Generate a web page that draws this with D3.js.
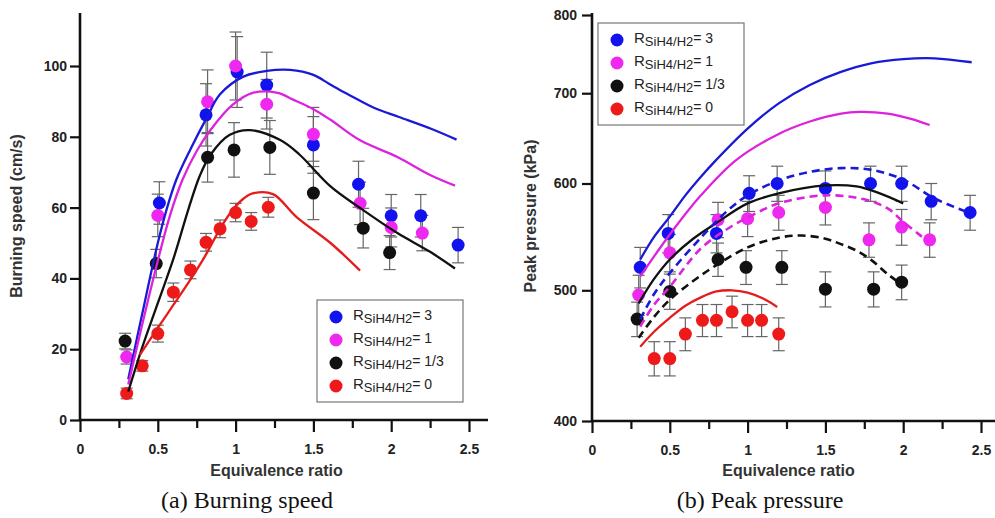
<!DOCTYPE html>
<html>
<head>
<meta charset="utf-8">
<script src="https://cdn.jsdelivr.net/npm/d3@7"></script>
<style>
body { margin: 0; background: #fff; }
svg text { font-family: "Liberation Sans", Arial, sans-serif; }
</style>
</head>
<body>
<div id="chart"></div>
<script>
// series order: R = 3, 1, 1/3, 0
var ratioLabels = ["3", "1", "1/3", "0"];
var pointColors = ["#1212ee", "#ee28ee", "#111111", "#ee1a1a"];
var lineColors = ["#1a1ad6", "#dd22dd", "#111111", "#e41c1c"];

// (a) burning speed, measured (cm/s)
var speedPhi = [
    [0.51, 0.81, 1.01, 1.2, 1.5, 1.79, 2.0, 2.19, 2.43],
    [0.3, 0.5, 0.82, 1.0, 1.2, 1.5, 1.8, 2.0, 2.2],
    [0.29, 0.49, 0.82, 0.99, 1.22, 1.5, 1.82, 1.99],
    [0.3, 0.4, 0.5, 0.6, 0.71, 0.81, 0.9, 1.0, 1.1, 1.21]
];
var speedVal = [
    [61.3, 86.2, 98.3, 94.6, 77.7, 66.6, 57.7, 57.7, 49.4],
    [17.8, 57.8, 89.9, 100, 89.2, 80.7, 61.2, 54.4, 52.8],
    [22.3, 44.2, 74.2, 76.3, 77, 64.1, 54.2, 47.3],
    [7.5, 15.3, 24.4, 36.1, 42.4, 50.2, 54, 58.6, 56.1, 60.1]
];
var speedErr = [
    [6, 8.8, 10, 9.3, 8, 6.5, 6, 6, 5],
    [2, 6, 9, 9.6, 7, 7.6, 6, 5.5, 5],
    [2.2, 4, 7, 7.7, 7.6, 7.5, 5.6, 4.8],
    [1.5, 1.5, 2.4, 2.6, 2.5, 2.5, 2.5, 2.6, 2.5, 2.8]
];

// (a) burning speed, model curves
var speedModelPhi = [
    [0.31, 0.4, 0.5, 0.56, 0.62, 0.71, 0.81, 0.9, 1.05, 1.2, 1.35, 1.5, 1.6, 1.7, 1.8, 1.9, 2.05, 2.26, 2.42],
    [0.31, 0.4, 0.5, 0.58, 0.66, 0.75, 0.84, 0.98, 1.11, 1.27, 1.37, 1.5, 1.61, 1.8, 2.04, 2.25, 2.41],
    [0.31, 0.4, 0.5, 0.6, 0.7, 0.77, 0.84, 0.96, 1.09, 1.29, 1.41, 1.61, 1.82, 2.04, 2.25, 2.41],
    [0.385, 0.5, 0.6, 0.7, 0.8, 0.9, 0.98, 1.05, 1.11, 1.24, 1.39, 1.61, 1.8]
];
var speedModelVal = [
    [11.5, 30, 50, 60, 68, 76.5, 85, 92, 97, 98.6, 98.9, 97.5, 95, 92.5, 90.2, 88, 85.6, 82.2, 79.2],
    [10, 27, 45, 58, 68, 76, 82, 89, 92.4, 92.4, 90.5, 87.8, 84.8, 79, 74.3, 69.2, 66.2],
    [8, 20.5, 33, 45.5, 60, 69, 75, 80.5, 81.9, 79, 75, 66, 59.3, 52.8, 47.5, 42.8],
    [18.4, 26, 32.5, 39, 46, 54, 59.3, 62.5, 64, 63.8, 57.4, 50, 42.2]
];

// (b) peak pressure, measured (kPa)
var pressPhi = [
    [0.31, 0.49, 0.8, 1.01, 1.19, 1.5, 1.79, 1.99, 2.18, 2.43],
    [0.3, 0.5, 0.81, 1.0, 1.2, 1.5, 1.78, 1.99, 2.17],
    [0.29, 0.5, 0.81, 0.99, 1.22, 1.5, 1.81, 1.99],
    [0.4, 0.5, 0.6, 0.71, 0.8, 0.9, 1.0, 1.09, 1.2]
];
var pressVal = [
    [520, 551, 551, 590, 600, 595, 600, 600, 582, 571],
    [496, 533, 564, 565, 571, 576, 545, 557, 545],
    [476, 499, 527, 520, 520, 501, 501, 507],
    [445, 445, 464, 475, 475, 482, 475, 475, 464]
];
var pressErr = [
    [18, 18, 18, 18, 18, 18, 18, 18, 18, 17],
    [17, 17, 17, 17, 17, 17, 16, 17, 16],
    [14, 15, 15, 15, 15, 15, 15, 15],
    [13, 13, 13, 13, 13, 13, 13, 13, 13]
];

// (b) peak pressure, model curves: solid and dashed
var pressSolidPhi = [
    [0.31, 0.4, 0.5, 0.6, 0.7, 0.8, 1.0, 1.2, 1.4, 1.6, 1.8, 2.0, 2.2, 2.44],
    [0.31, 0.5, 0.7, 0.93, 1.2, 1.4, 1.6, 1.72, 1.9, 2.05, 2.17],
    [0.3, 0.4, 0.5, 0.65, 0.8, 1.0, 1.2, 1.5, 1.7, 1.85, 2.0],
    [0.31, 0.4, 0.5, 0.6, 0.7, 0.8, 0.9, 1.0, 1.1, 1.19]
];
var pressSolidVal = [
    [527, 548, 567, 588, 607, 625, 659, 688, 710, 726, 737, 742, 743, 738],
    [512, 550, 588, 625, 653, 667, 676, 678, 676, 670, 663],
    [489, 510, 527, 546, 561, 580, 590, 598, 597, 590, 580],
    [454, 466, 477, 487, 494, 499, 500, 498, 493, 486]
];
var pressDashPhi = [
    [0.31, 0.4, 0.5, 0.7, 0.88, 1.0, 1.2, 1.4, 1.6, 1.8, 2.0, 2.2, 2.42],
    [0.31, 0.4, 0.5, 0.7, 0.9, 1.0, 1.2, 1.5, 1.75, 1.9, 2.0, 2.12],
    [0.3, 0.4, 0.5, 0.65, 0.8, 1.0, 1.2, 1.35, 1.5, 1.6, 1.7, 1.8, 1.9, 1.98],
    []
];
var pressDashVal = [
    [476, 497, 515, 547, 574, 588, 603, 612, 616, 614, 604, 585, 571],
    [470, 488, 503, 537, 558, 566, 580, 588, 584, 575, 562, 548],
    [461, 478, 492, 508, 522, 538, 547, 549, 546, 541, 535, 526, 514, 506],
    []
];

var xTicks = [0, 0.5, 1, 1.5, 2, 2.5];
var xMinorTicks = [0.25, 0.75, 1.25, 1.75, 2.25];
var speedTicks = [0, 20, 40, 60, 80, 100];
var pressTicks = [400, 500, 600, 700, 800];

var width = 995, height = 518;

var svg = d3.select("#chart").append("svg")
    .attr("width", width)
    .attr("height", height);

svg.append("rect")
    .attr("width", width)
    .attr("height", height)
    .attr("fill", "#fff");

function zip(xs, ys) {
    return xs.map(function(d, i) { return [d, ys[i]]; });
}

function drawAxes(g, x, y, xEnd, yTop, yTickValues, yPad, yTitle, yTitleX) {
    var x0 = x.range()[0], y0 = y.range()[0];

    g.append("g")
        .attr("class", "xminor")
        .attr("transform", "translate(0," + y0 + ")")
        .call(d3.axisBottom(x).tickValues(xMinorTicks).tickSize(8).tickFormat(""));

    g.append("g")
        .attr("class", "xmajor")
        .attr("transform", "translate(0," + y0 + ")")
        .call(d3.axisBottom(x).tickValues(xTicks).tickSize(12).tickPadding(12)
            .tickFormat(function(d) { return String(d); }));

    g.append("g")
        .attr("class", "yaxis")
        .attr("transform", "translate(" + x0 + ",0)")
        .call(d3.axisLeft(y).tickValues(yTickValues).tickSize(10).tickPadding(yPad)
            .tickFormat(function(d) { return String(d); }));

    g.selectAll(".domain").remove();
    g.selectAll(".tick line").attr("stroke", "#111").attr("stroke-width", 2.2);
    g.selectAll(".tick text")
        .attr("fill", "#222")
        .style("font-size", "14px")
        .style("font-weight", "bold");

    g.append("line")
        .attr("x1", x0).attr("x2", xEnd)
        .attr("y1", y0).attr("y2", y0)
        .attr("stroke", "#111").attr("stroke-width", 2.6);
    g.append("line")
        .attr("x1", x0).attr("x2", x0)
        .attr("y1", y0).attr("y2", yTop)
        .attr("stroke", "#111").attr("stroke-width", 2.6);

    g.append("text")
        .attr("x", (x(0) + x(2.5)) / 2 + 2)
        .attr("y", 476)
        .attr("text-anchor", "middle")
        .attr("fill", "#333")
        .style("font-size", "16px")
        .style("font-weight", "bold")
        .text("Equivalence ratio");

    g.append("text")
        .attr("transform", "translate(" + yTitleX + ",216) rotate(-90)")
        .attr("text-anchor", "middle")
        .attr("fill", "#333")
        .style("font-size", "16px")
        .style("font-weight", "bold")
        .text(yTitle);
}

function drawPoints(g, x, y, phis, vals, errs) {
    phis.forEach(function(ph, s) {
        var pts = ph.map(function(d, i) { return {x: d, y: vals[s][i], e: errs[s][i]}; });
        var bars = g.append("g").attr("stroke", "#666").attr("stroke-width", 1.2);
        bars.selectAll("line.v").data(pts).enter().append("line")
            .attr("x1", function(d) { return x(d.x); })
            .attr("x2", function(d) { return x(d.x); })
            .attr("y1", function(d) { return y(d.y - d.e); })
            .attr("y2", function(d) { return y(d.y + d.e); });
        bars.selectAll("line.t").data(pts).enter().append("line")
            .attr("x1", function(d) { return x(d.x) - 6; })
            .attr("x2", function(d) { return x(d.x) + 6; })
            .attr("y1", function(d) { return y(d.y + d.e); })
            .attr("y2", function(d) { return y(d.y + d.e); });
        bars.selectAll("line.b").data(pts).enter().append("line")
            .attr("x1", function(d) { return x(d.x) - 6; })
            .attr("x2", function(d) { return x(d.x) + 6; })
            .attr("y1", function(d) { return y(d.y - d.e); })
            .attr("y2", function(d) { return y(d.y - d.e); });
    });
    phis.forEach(function(ph, s) {
        g.append("g").selectAll("circle")
            .data(zip(ph, vals[s]))
            .enter()
            .append("circle")
            .attr("cx", function(d) { return x(d[0]); })
            .attr("cy", function(d) { return y(d[1]); })
            .attr("r", 6.5)
            .attr("fill", pointColors[s]);
    });
}

function drawCurves(g, x, y, phis, vals, dashed) {
    var line = d3.line()
        .x(function(d) { return x(d[0]); })
        .y(function(d) { return y(d[1]); })
        .curve(d3.curveCatmullRom.alpha(0.5));
    phis.forEach(function(ph, s) {
        if (!ph.length) return;
        g.append("path")
            .datum(zip(ph, vals[s]))
            .attr("d", line)
            .attr("fill", "none")
            .attr("stroke", lineColors[s])
            .attr("stroke-width", dashed ? 2.6 : 2.3)
            .attr("stroke-dasharray", dashed ? "8,5" : null);
    });
}

function drawLegend(g, left, top) {
    g.append("rect")
        .attr("x", left).attr("y", top)
        .attr("width", 146).attr("height", 102)
        .attr("fill", "#fff")
        .attr("stroke", "#777")
        .attr("stroke-width", 1.2);
    ratioLabels.forEach(function(lab, i) {
        var cy = top + 17 + i * 23;
        g.append("circle")
            .attr("cx", left + 19).attr("cy", cy)
            .attr("r", 6.5)
            .attr("fill", pointColors[i]);
        var t = g.append("text")
            .attr("x", left + 36).attr("y", cy + 3)
            .attr("fill", "#222");
        t.append("tspan").style("font-size", "15px").text("R");
        t.append("tspan").style("font-size", "13px").attr("dy", 2.5).text("SiH4/H2");
        t.append("tspan").style("font-size", "14px").attr("dy", -3).text("= " + lab);
    });
}

// panel (a)
var xa = d3.scaleLinear().domain([0, 2.5]).range([80, 469]);
var ya = d3.scaleLinear().domain([0, 100]).range([420, 66]);
var ga = svg.append("g");
drawAxes(ga, xa, ya, 488, 13, speedTicks, 3, "Burning speed (cm/s)", 22);
drawPoints(ga, xa, ya, speedPhi, speedVal, speedErr);
drawCurves(ga, xa, ya, speedModelPhi, speedModelVal, false);
drawLegend(ga, 317, 300);

// panel (b)
var xb = d3.scaleLinear().domain([0, 2.5]).range([592, 981]);
var yb = d3.scaleLog().domain([400, 800]).range([421, 15]);
var gb = svg.append("g");
drawAxes(gb, xb, yb, 995, 13, pressTicks, 5, "Peak pressure (kPa)", 536);
drawPoints(gb, xb, yb, pressPhi, pressVal, pressErr);
drawCurves(gb, xb, yb, pressSolidPhi, pressSolidVal, false);
drawCurves(gb, xb, yb, pressDashPhi, pressDashVal, true);
drawLegend(gb, 598, 23);

// captions
svg.append("text")
    .attr("x", 247).attr("y", 508)
    .attr("text-anchor", "middle")
    .attr("fill", "#111")
    .style("font-family", "'Liberation Serif', serif")
    .style("font-size", "24px")
    .text("(a) Burning speed");
svg.append("text")
    .attr("x", 760).attr("y", 508)
    .attr("text-anchor", "middle")
    .attr("fill", "#111")
    .style("font-family", "'Liberation Serif', serif")
    .style("font-size", "24px")
    .text("(b) Peak pressure");
</script>
</body>
</html>
